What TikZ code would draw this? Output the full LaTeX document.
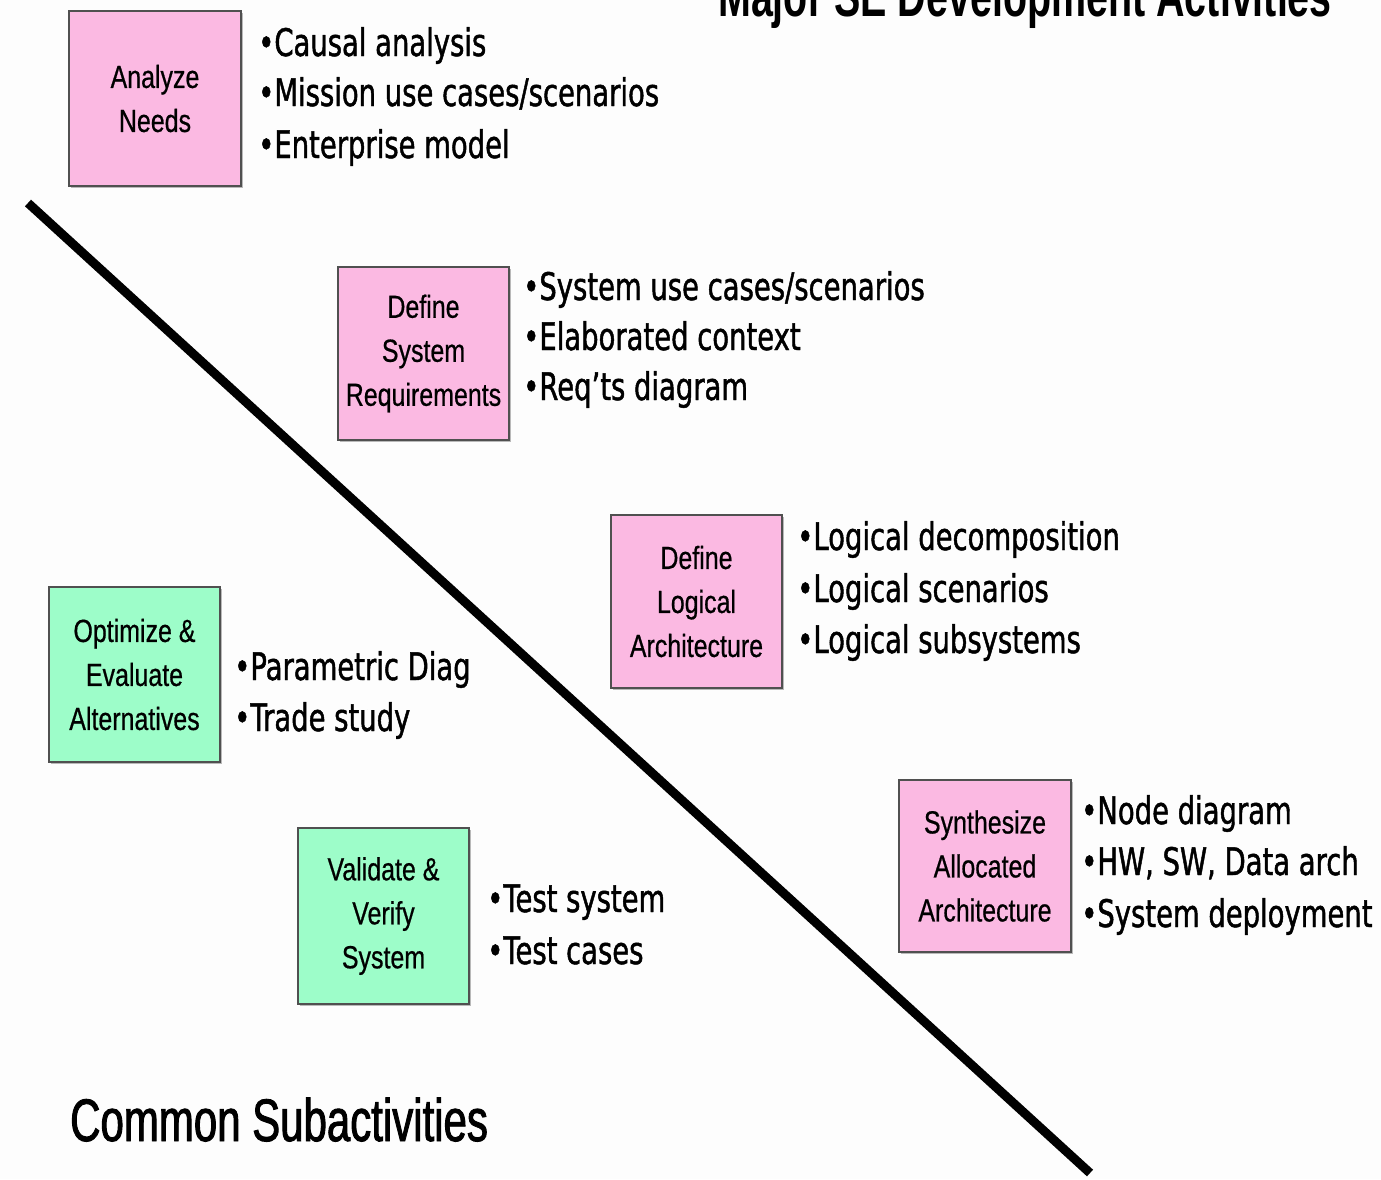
\documentclass[tikz,border=0pt]{standalone}
\usepackage{fontspec}
\usetikzlibrary{shadows}
\setmainfont{Liberation Sans}
\newfontfamily\bulletfont[FakeStretch=0.722, FakeBold=1.2]{DejaVu Sans}
\newfontfamily\boxfont[FakeStretch=0.78, FakeBold=0.6]{Liberation Sans}
\newfontfamily\headfont[FakeStretch=0.68]{Liberation Sans}
\newfontfamily\subfont[FakeStretch=0.70, FakeBold=1.5]{Liberation Sans}
\definecolor{needpink}{HTML}{FBB9E2}
\definecolor{subgreen}{HTML}{9DFDC9}
\definecolor{boxedge}{HTML}{505050}
\definecolor{paper}{HTML}{FDFDFD}
\begin{document}
\begin{tikzpicture}[x=1pt,y=-1pt,
  actbox/.style={draw=boxedge, line width=1.6pt, inner sep=0pt, align=center,
    font=\boxfont\fontsize{32}{44}\selectfont,
    drop shadow={shadow xshift=2pt, shadow yshift=-2pt, fill=gray!55, opacity=1}},
  pinkbox/.style={actbox, fill=needpink},
  greenbox/.style={actbox, fill=subgreen},
  item/.style={anchor=base west, inner sep=0pt, font=\bulletfont\fontsize{38}{38}\selectfont},
  divider/.style={line width=9pt, line cap=butt}]
  % page
  \fill[paper] (0,0) rectangle (1381,1179);
  \useasboundingbox (0,0) rectangle (1381,1179);
  \clip (0,0) rectangle (1381,1179);

  % headings
  \node[anchor=base west, inner sep=0pt, font=\headfont\bfseries\fontsize{58}{58}\selectfont]
    (major) at (718,16) {Major SE Development Activities};
  \node[anchor=base west, inner sep=0pt, font=\subfont\fontsize{60}{60}\selectfont]
    (common) at (70,1141) {Common Subactivities};

  % dividing line
  \coordinate (divA) at (28,203);
  \coordinate (divB) at (1090,1173);
  \draw[divider] (divA) -- (divB);

  % major activities
  \node[pinkbox, minimum width=172, minimum height=175] (needs) at (155,98.5) {Analyze\\Needs};
  \node[item] (n1) at (258,56)  {•Causal analysis};
  \node[item] (n2) at (258,106) {•Mission use cases/scenarios};
  \node[item] (n3) at (258,158) {•Enterprise model};

  \node[pinkbox, minimum width=171, minimum height=173] (sysreq) at (423.5,353.5) {Define\\System\\Requirements};
  \node[item] (r1) at (523,300) {•System use cases/scenarios};
  \node[item] (r2) at (523,350) {•Elaborated context};
  \node[item] (r3) at (523,400) {•Req’ts diagram};

  \node[pinkbox, minimum width=171, minimum height=173] (logarch) at (696.5,601.5) {Define\\Logical\\Architecture};
  \node[item] (l1) at (797,550) {•Logical decomposition};
  \node[item] (l2) at (797,602) {•Logical scenarios};
  \node[item] (l3) at (797,653) {•Logical subsystems};

  \node[pinkbox, minimum width=172, minimum height=172] (allocarch) at (985,866) {Synthesize\\Allocated\\Architecture};
  \node[item] (s1) at (1081,824) {•Node diagram};
  \node[item] (s2) at (1081,875) {•HW, SW, Data arch};
  \node[item] (s3) at (1081,927) {•System deployment};

  % common subactivities
  \node[greenbox, minimum width=171, minimum height=175] (optim) at (134.5,674.5) {Optimize \&\\Evaluate\\Alternatives};
  \node[item] (o1) at (234,680) {•Parametric Diag};
  \node[item] (o2) at (234,731) {•Trade study};

  \node[greenbox, minimum width=171, minimum height=176] (verify) at (383.5,916) {Validate \&\\Verify\\System};
  \node[item] (v1) at (487,912) {•Test system};
  \node[item] (v2) at (487,964) {•Test cases};
\end{tikzpicture}
\end{document}
